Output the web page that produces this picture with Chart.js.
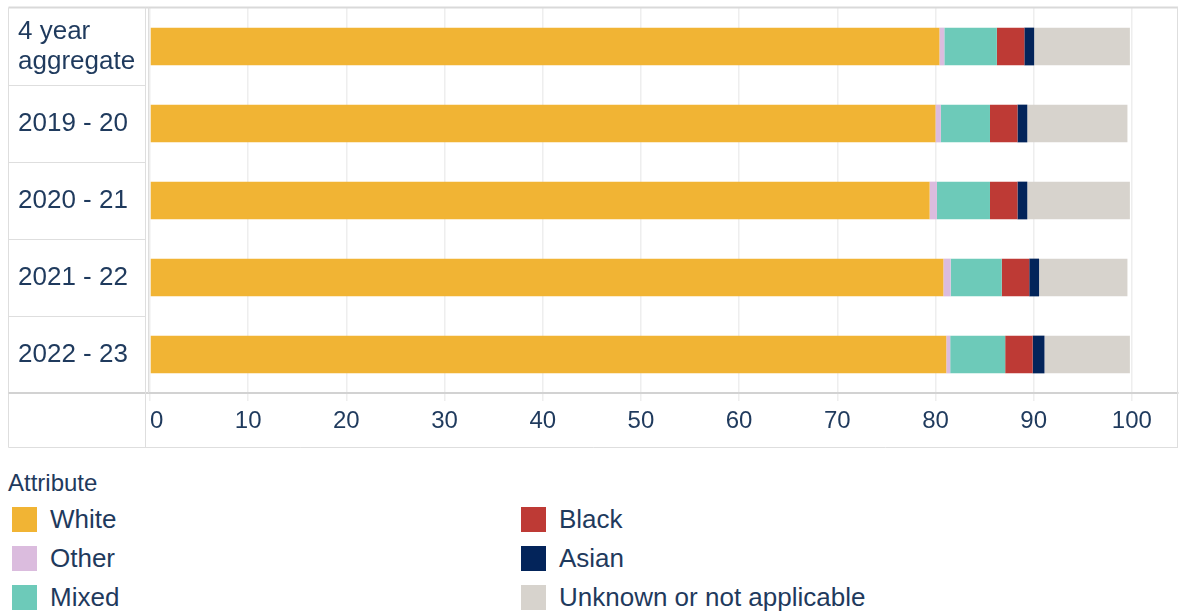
<!DOCTYPE html>
<html>
<head>
<meta charset="utf-8">
<script src="https://cdn.jsdelivr.net/npm/chart.js@4"></script>
<style>
  html, body { margin: 0; padding: 0; background: #fff; }
  body { width: 1179px; height: 614px; overflow: hidden; position: relative;
         font-family: "Liberation Sans", Arial, sans-serif; color: #1f3a5d; }
  #chart { position: absolute; left: 0; top: 0; }
  #legendTitle { position: absolute; left: 8px; top: 469px; font-size: 24px; line-height: 28px; }
  #legend { position: absolute; left: 12px; top: 500px; display: grid;
            grid-template-columns: 509px 420px; grid-template-rows: repeat(3, 39px);
            grid-auto-flow: column; }
  .item { display: flex; align-items: center; font-size: 26px; white-space: nowrap; }
  .sw { width: 25px; height: 25px; margin-right: 13px; flex: none; }
</style>
</head>
<body>
<canvas id="chart" width="1179" height="450"></canvas>
<div id="legendTitle">Attribute</div>
<div id="legend"></div>
<script>
// Row categories (top to bottom)
const categories = [['4 year', 'aggregate'], '2019 - 20', '2020 - 21', '2021 - 22', '2022 - 23'];

// Share of each group, percent
const white   = [80.4, 80.0, 79.4, 80.8, 81.1];
const other   = [0.5, 0.55, 0.75, 0.75, 0.4];
const mixed   = [5.35, 5.0, 5.4, 5.2, 5.6];
const black   = [2.8, 2.8, 2.8, 2.8, 2.8];
const asian   = [1.0, 1.0, 1.0, 1.0, 1.2];
const unknown = [9.75, 10.2, 10.45, 9.0, 8.7];

const seriesNames = ['White', 'Other', 'Mixed', 'Black', 'Asian', 'Unknown or not applicable'];
const seriesColors = ['#f1b434', '#dbbcde', '#6dcab9', '#be3a35', '#03245a', '#d7d3cd'];

// Axis tick values
const xTicks = [0, 10, 20, 30, 40, 50, 60, 70, 80, 90, 100];
const xMax = 104.7;

const FONT = '"Liberation Sans", Arial, sans-serif';
const TEXT = '#1f3a5d';
const LINE = '#dedede';

// Table-style frame around the row labels and the plot
const tableFrame = {
  id: 'tableFrame',
  beforeDatasetsDraw(chart) {
    const { ctx, chartArea: a, scales: { y } } = chart;
    const left = 8.5, bottom = 447.5, top = a.top - 0.5;
    const line = (x1, y1, x2, y2, c, w) => {
      ctx.beginPath(); ctx.strokeStyle = c; ctx.lineWidth = w;
      ctx.moveTo(x1, y1); ctx.lineTo(x2, y2); ctx.stroke();
    };
    ctx.save();
    // outer borders
    line(left, top, a.right, top, '#d9d9d9', 2);
    line(left, top, left, bottom, LINE, 1);
    line(left, bottom, a.right, bottom, LINE, 1);
    line(a.right - 0.5, top, a.right - 0.5, bottom, LINE, 1);
    // row separators in the label column
    for (let i = 1; i < categories.length; i++) {
      const yy = Math.round((y.getPixelForValue(i - 1) + y.getPixelForValue(i)) / 2) + 0.5;
      line(left, yy, a.left - 5, yy, LINE, 1);
    }
    line(left, a.bottom, a.left, a.bottom, '#d2d2d2', 2);
    // divider between labels and plot
    line(a.left - 4.5, top, a.left - 4.5, bottom, LINE, 1);
    line(a.left - 1.5, top, a.left - 1.5, a.bottom, LINE, 1);
    ctx.restore();
  }
};

const datasetsArr = [white, other, mixed, black, asian, unknown].map((d, i) => ({
  label: seriesNames[i],
  data: d,
  backgroundColor: seriesColors[i],
  borderWidth: 0,
  barPercentage: 0.49,
  categoryPercentage: 1
}));

const chart = new Chart(document.getElementById('chart'), {
  type: 'bar',
  data: { labels: categories, datasets: datasetsArr },
  plugins: [tableFrame],
  options: {
    indexAxis: 'y',
    responsive: false,
    animation: false,
    devicePixelRatio: 1,
    layout: { padding: { left: 18, top: 8, right: 1, bottom: 2 } },
    plugins: { legend: { display: false }, tooltip: { enabled: false } },
    scales: {
      x: {
        stacked: true,
        min: 0,
        max: xMax,
        afterBuildTicks(s) { s.ticks = [...xTicks, xMax].map(v => ({ value: v })); },
        afterFit(s) { s.height = 55; s.paddingLeft = 0; s.paddingRight = 0; },
        grid: {
          color: c => (c.tick && c.tick.value > 100) ? 'rgba(0,0,0,0)' : '#eeeeee',
          tickColor: c => (c.tick && c.tick.value > 100) ? 'rgba(0,0,0,0)' : '#eeeeee',
          tickLength: 8,
          lineWidth: 1.5
        },
        border: { color: '#d2d2d2', width: 2 },
        ticks: {
          align: 'inner',
          autoSkip: false,
          maxRotation: 0,
          padding: 6,
          color: TEXT,
          font: { size: 24, family: FONT },
          callback: v => (v > 100 ? '' : v)
        }
      },
      y: {
        stacked: true,
        afterFit(s) { s.width = 132; s.paddingTop = 0; s.paddingBottom = 0; },
        grid: { display: false },
        border: { display: false },
        ticks: {
          crossAlign: 'far',
          padding: 0,
          color: TEXT,
          font: { size: 26, family: FONT, lineHeight: 1.15 }
        }
      }
    }
  }
});

// Legend built from the chart's datasets, two columns
const legendEl = document.getElementById('legend');
chart.data.datasets.forEach(ds => {
  const item = document.createElement('div');
  item.className = 'item';
  const sw = document.createElement('span');
  sw.className = 'sw';
  sw.style.background = ds.backgroundColor;
  const tx = document.createElement('span');
  tx.textContent = ds.label;
  item.appendChild(sw);
  item.appendChild(tx);
  legendEl.appendChild(item);
});
</script>
</body>
</html>
